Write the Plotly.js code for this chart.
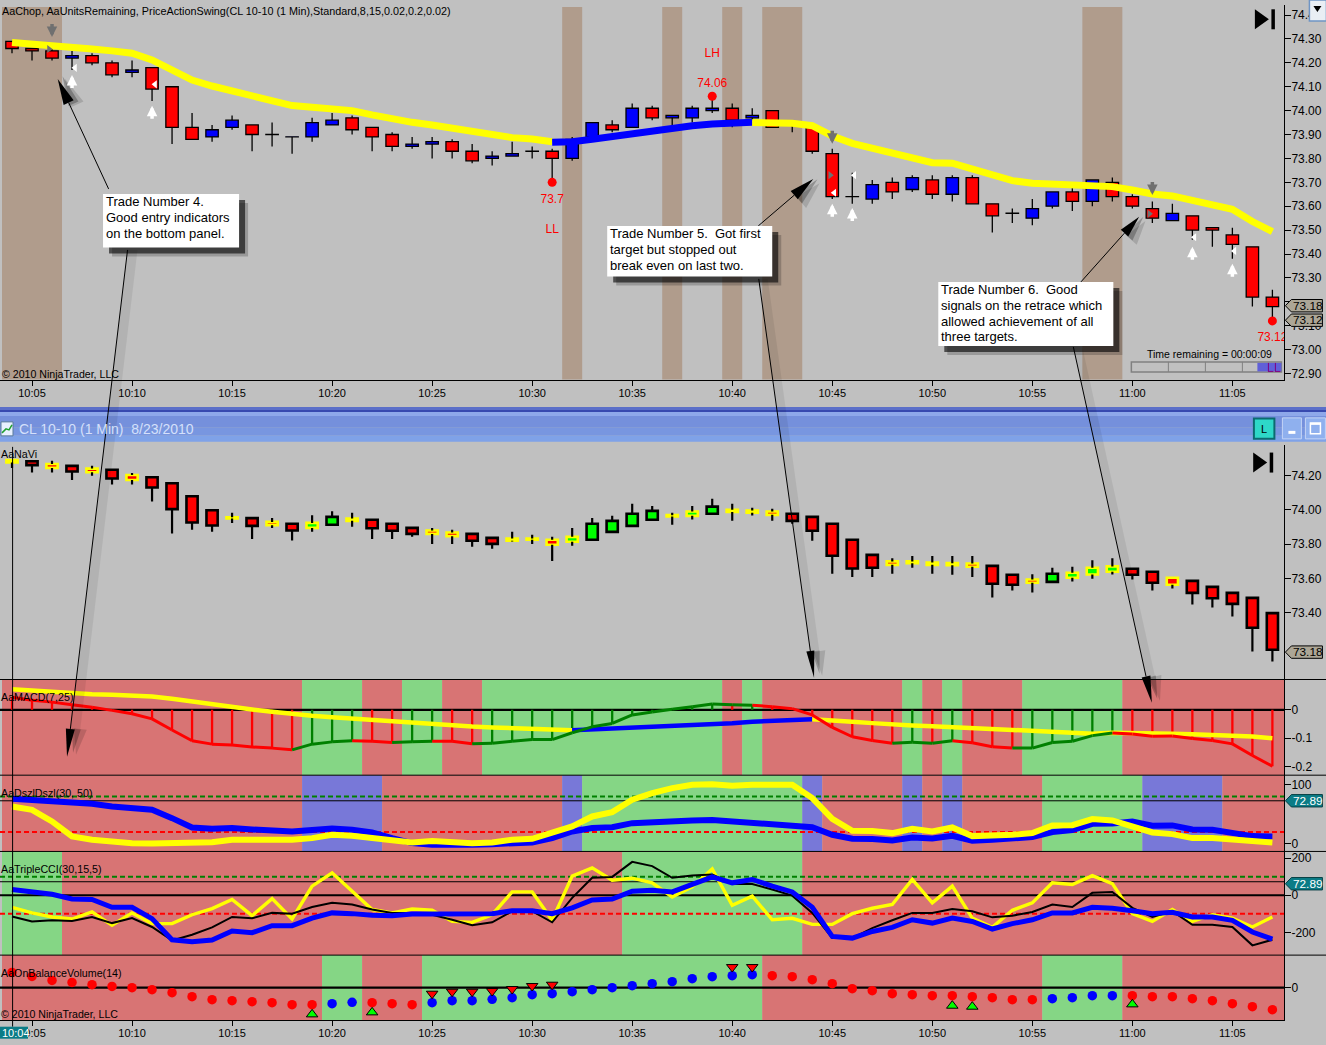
<!DOCTYPE html>
<html><head><meta charset="utf-8">
<script src="https://cdn.plot.ly/plotly-3.0.1.min.js"></script>
<style>html,body{margin:0;padding:0;background:#c0c0c0;overflow:hidden}</style>
</head><body><div id="chart" style="width:1326px;height:1045px"></div>
<script>
// ---------- time axis: minutes after 10:00, first bar 10:04 ----------
const firstMinute = 4;
const timeTickVals = [5,10,15,20,25,30,35,40,45,50,55,60,65];
const timeTickText = ['10:05','10:10','10:15','10:20','10:25','10:30','10:35','10:40','10:45','10:50','10:55','11:00','11:05'];

// ---------- top price panel ----------
const topOpen=[74.29,74.26,74.25,74.22,74.23,74.20,74.16,74.18,74.10,73.93,73.89,73.93,73.94,73.90,73.89,73.89,73.94,73.97,73.93,73.90,73.85,73.86,73.87,73.83,73.80,73.81,73.83,73.83,73.80,73.89,73.94,73.93,74.01,73.97,73.97,74.00,74.01,73.97,74.00,73.95,73.93,73.82,73.64,73.63,73.70,73.67,73.71,73.65,73.72,73.61,73.57,73.55,73.60,73.66,73.62,73.70,73.64,73.59,73.54,73.56,73.51,73.48,73.43,73.22];
const topClose=[74.26,74.25,74.22,74.23,74.20,74.15,74.17,74.09,73.93,73.88,73.92,73.96,73.90,73.90,73.89,73.95,73.96,73.92,73.89,73.85,73.86,73.87,73.83,73.79,73.81,73.82,73.83,73.80,73.88,73.95,73.92,74.01,73.97,73.98,74.01,74.01,73.96,73.98,73.93,73.94,73.83,73.64,73.64,73.69,73.66,73.72,73.65,73.72,73.61,73.56,73.57,73.59,73.66,73.62,73.71,73.64,73.60,73.55,73.57,73.50,73.50,73.44,73.22,73.18];
const topHigh=[74.29,74.26,74.27,74.25,74.24,74.21,74.21,74.18,74.10,73.99,73.94,73.98,73.94,73.95,73.89,73.97,73.99,73.98,73.93,73.91,73.89,73.89,73.88,73.86,73.83,73.87,73.85,73.84,73.89,73.95,73.96,74.03,74.02,73.98,74.02,74.06,74.03,74.01,74.00,73.96,73.94,73.84,73.74,73.71,73.72,73.73,73.73,73.73,73.73,73.61,73.59,73.63,73.66,73.68,73.71,73.72,73.65,73.62,73.61,73.56,73.51,73.51,73.43,73.25];
const topLow=[74.24,74.21,74.21,74.17,74.19,74.14,74.14,74.04,73.86,73.88,73.87,73.92,73.83,73.85,73.82,73.87,73.94,73.90,73.83,73.83,73.84,73.80,73.80,73.78,73.77,73.81,73.80,73.70,73.79,73.88,73.91,73.93,73.96,73.94,73.95,73.99,73.93,73.96,73.93,73.91,73.82,73.63,73.61,73.61,73.63,73.66,73.63,73.62,73.61,73.49,73.53,73.52,73.59,73.58,73.60,73.62,73.59,73.53,73.54,73.46,73.43,73.38,73.18,73.12];
const chopYellowA=[74.285,74.28,74.275,74.268,74.258,74.25,74.24,74.212,74.167,74.128,74.103,74.084,74.063,74.042,74.021,74.014,74.007,74.00,73.982,73.965,73.951,73.94,73.926,73.911,73.898,73.887,73.881,73.87];
const chopBlue=[73.868,73.87,73.88,73.891,73.905,73.919,73.93,73.937,73.944,73.947,73.951];
const chopYellowB=[73.95,73.948,73.947,73.937,73.894,73.863,73.842,73.819,73.805,73.782,73.78,73.756,73.728,73.707,73.696,73.692,73.685,73.688,73.682,73.668,73.651,73.643,73.626,73.609,73.587,73.536,73.494];
const chopZones=[[3.5,6.5],[31.5,32.5],[36.5,37.5],[39.5,40.5],[41.5,43.5],[57.5,59.5]];
const swingDotX=[31,39,67], swingDotY=[73.70,74.06,73.12];
const swingLabelX=[31,31,39,39,67], swingLabelY=[73.626,73.50,74.112,74.237,73.049], swingLabelText=['73.7','LL','74.06','LH','73.12'];
const upArrowX=[7,11,45,46,63,65], upArrowY=[74.149,74.02,73.61,73.593,73.43,73.359];
const downArrowX=[6,45,61], downArrowY=[74.308,73.861,73.647];
const whiteTickX=[7.15,11.15,45.1,46.1,63.1,65.1], whiteTickY=[74.179,74.11,73.656,73.73,73.47,73.413];
const grayTickX=[5.85,44.9,60.85], grayTickY=[74.258,73.73,73.568];
const topTickVals=[74.4,74.3,74.2,74.1,74.0,73.9,73.8,73.7,73.6,73.5,73.4,73.3,73.2,73.1,73.0,72.9];
const topTickText=['74.40','74.30','74.20','74.10','74.00','73.90','73.80','73.70','73.60','73.50','73.40','73.30','','73.10','73.00','72.90'];

// ---------- AaNaVi panel ----------
const naTop=[74.29,74.283,74.267,74.256,74.24,74.233,74.203,74.19,74.155,74.079,73.998,73.957,73.952,73.93,73.919,73.924,73.959,73.95,73.942,73.919,73.895,73.88,73.868,73.86,73.837,73.833,73.833,73.826,73.843,73.919,73.936,73.977,73.994,73.969,73.99,74.019,74.0,73.996,73.99,73.977,73.959,73.919,73.826,73.738,73.70,73.70,73.694,73.69,73.688,73.674,73.622,73.595,73.628,73.634,73.663,73.671,73.657,73.64,73.605,73.587,73.552,73.517,73.488,73.399];
const naBot=[74.275,74.26,74.244,74.223,74.219,74.182,74.174,74.13,74.004,73.926,73.909,73.95,73.907,73.911,73.88,73.895,73.913,73.936,73.893,73.878,73.86,73.86,73.847,73.82,73.802,73.82,73.826,73.797,73.814,73.826,73.872,73.907,73.942,73.961,73.965,73.977,73.988,73.983,73.971,73.936,73.878,73.733,73.659,73.663,73.68,73.69,73.68,73.678,73.669,73.57,73.564,73.576,73.581,73.605,73.624,73.64,73.622,73.576,73.564,73.517,73.486,73.453,73.314,73.186];
const naHigh=[74.29,74.283,74.285,74.256,74.256,74.233,74.215,74.19,74.155,74.079,73.998,73.983,73.952,73.953,73.919,73.969,73.992,73.983,73.942,73.919,73.895,73.895,73.884,73.86,73.837,73.872,73.855,73.843,73.895,73.953,73.965,74.035,74.023,73.983,74.023,74.064,74.035,74.012,74.006,73.977,73.959,73.919,73.826,73.738,73.719,73.731,73.731,73.731,73.731,73.674,73.622,73.626,73.663,73.669,73.707,73.719,73.657,73.64,73.605,73.587,73.552,73.517,73.488,73.399];
const naLow=[74.244,74.217,74.217,74.174,74.198,74.147,74.147,74.048,73.862,73.884,73.872,73.924,73.831,73.895,73.822,73.872,73.913,73.901,73.831,73.831,73.843,73.802,73.802,73.785,73.773,73.816,73.802,73.703,73.791,73.826,73.872,73.907,73.942,73.913,73.944,73.977,73.936,73.967,73.936,73.919,73.82,73.628,73.61,73.61,73.628,73.663,73.628,73.622,73.61,73.49,73.531,73.519,73.581,73.583,73.599,73.624,73.595,73.531,73.543,73.45,73.432,73.38,73.176,73.118];
const naStyle=['YR','BR','YR','BR','YR','BR','YR','BR','BR','BR','BR','YY','BR','YR','BR','YG','BG','YY','BR','BR','BR','YR','YR','BR','BR','YY','YY','YR','YG','BG','BG','BG','BG','YY','YG','BG','YY','YY','YR','BR','BR','BR','BR','BR','YR','YY','YY','YY','YR','BR','BR','YR','BG','YG','YG','YG','BR','BR','YR','BR','BR','BR','BR','BR'];
const naTickVals=[74.2,74.0,73.8,73.6,73.4], naTickText=['74.20','74.00','73.80','73.60','73.40'];

// ---------- AaMACD panel ----------
const macdMain=[.044,.034,.027,.018,.009,-.002,-.014,-.032,-.071,-.109,-.121,-.124,-.131,-.135,-.141,-.121,-.113,-.109,-.111,-.115,-.113,-.111,-.111,-.12,-.118,-.111,-.105,-.105,-.081,-.06,-.048,-.018,-.008,.002,.011,.02,.018,.016,.011,.004,-.018,-.062,-.095,-.108,-.118,-.114,-.118,-.109,-.116,-.13,-.135,-.135,-.115,-.111,-.091,-.082,-.085,-.093,-.092,-.101,-.108,-.12,-.161,-.199];
const macdSignalA=[.072,.067,.062,.059,.055,.053,.051,.047,.039,.029,.02,.009,.001,-.007,-.015,-.021,-.026,-.031,-.036,-.042,-.046,-.051,-.055,-.059,-.062,-.065,-.068,-.072,-.072];
const macdSignalBlue=[-.072,-.069,-.067,-.062,-.06,-.058,-.055,-.052,-.047,-.042,-.039,-.036,-.033];
const macdSignalB=[-.033,-.039,-.042,-.047,-.052,-.055,-.058,-.061,-.065,-.067,-.071,-.075,-.079,-.081,-.084,-.081,-.081,-.081,-.084,-.086,-.088,-.091,-.094,-.1];
const macdStemColor='RRRRRRRRRRRRRRRGGGRRGGRRGGGGGGGGGGGGRGRRRRRRRGRGRRRGGGGGRRRRRRRR'.split('');
const macdLineColor='RRRRRRRRRRRRRRRGGGRRGGRRGGGGGGGGGGGGGGRRRRRRRGGGRRRGGGGGRRRRRRRR'.split('');
const macdBands=[[3.5,18.5,'R'],[18.5,21.5,'G'],[21.5,23.5,'R'],[23.5,25.5,'G'],[25.5,27.5,'R'],[27.5,39.5,'G'],[39.5,40.5,'R'],[40.5,41.5,'G'],[41.5,48.5,'R'],[48.5,49.5,'G'],[49.5,50.5,'R'],[50.5,51.5,'G'],[51.5,54.5,'R'],[54.5,59.5,'G'],[59.5,67.58,'R']];

// ---------- AaDszlDszl panel ----------
const dszlBlue=[76.3,74.6,71.8,68.9,67.8,63.3,61.6,57.6,43.5,27.7,25.4,26.6,24.3,22.6,20.9,23.2,26,23.7,19.2,9.6,1.1,-1.7,-2.8,-1.7,-.6,1.1,2.3,9.6,20.9,26.6,28.2,35,37.3,37.9,39.5,40.1,37.9,36.7,33.3,32.8,28.2,15.3,8.5,7.9,5.6,10.7,9,13.6,5.1,6.8,8.5,11.3,19.8,23.2,33.9,34.5,37.9,30.5,31.1,24.3,23.7,19.2,13,12.4];
const dszlYellow=[63.3,57.6,37.9,12.4,6.8,2.8,1.1,.6,1.1,1.1,2.8,6.8,6.8,6.8,6.8,9.6,15.3,13.6,9.6,5.6,2.3,4.5,2.8,1.1,2.3,6.8,8.5,18.1,29.4,46.3,53.7,74.6,85.9,94.4,100,101.1,98.3,100,100,100,77.4,42.4,22,21.5,18.1,25.4,20.9,27.7,13,13,15.3,18.1,31.1,31.6,41.8,39.5,29.4,19.2,16.4,9.6,9.6,6.8,2.8,2.3];
const dszlBands=[[3.5,18.5,'R'],[18.5,22.5,'B'],[22.5,31.5,'R'],[31.5,32.5,'B'],[32.5,43.5,'G'],[43.5,44.5,'B'],[44.5,48.5,'R'],[48.5,49.5,'B'],[49.5,50.5,'R'],[50.5,51.5,'B'],[51.5,55.5,'R'],[55.5,60.5,'G'],[60.5,64.5,'B'],[64.5,67.58,'R']];
const dszlUpper=80, dszlLower=20, crossLevel=72.89;

// ---------- AaTripleCCI panel ----------
const cciYellow=[-65,-95,-117,-128,-90,-162,-95,-153,-153,-105,-72,-23,-110,-18,-128,49,121,22,-77,-95,-74,-81,-141,-146,-105,18,18,-135,103,148,81,92,67,-9,45,142,-54,-5,-132,-124,-157,-157,-99,-70,-50,85,-41,49,-123,-173,-81,-41,67,58,106,63,-99,-141,-77,-141,-105,-123,-171,-117];
const cciBlack=[-114,-141,-135,-139,-117,-150,-123,-171,-243,-213,-173,-117,-124,-95,-99,-63,-41,-50,-77,-95,-95,-105,-132,-162,-146,-86,-86,-146,-14,94,99,180,157,94,106,112,61,61,31,-2,-95,-231,-231,-177,-135,-95,-95,-74,-86,-119,-110,-90,-50,-63,13,18,-68,-117,-86,-159,-159,-171,-270,-240];
const cciBlue=[31,16,5,-20,-23,-65,-65,-126,-240,-250,-241,-193,-202,-164,-164,-123,-95,-99,-108,-110,-101,-101,-101,-99,-99,-83,-83,-99,-68,-25,-20,22,27,18,61,99,67,85,49,18,-65,-222,-231,-195,-173,-132,-150,-123,-141,-182,-153,-132,-95,-95,-65,-70,-83,-99,-92,-117,-117,-135,-198,-236];
const cciBands=[[3.5,6.5,'G'],[6.5,34.5,'R'],[34.5,43.5,'G'],[43.5,67.58,'R']];
const cciUpper=100, cciLower=-100;

// ---------- AaOnBalanceVolume panel ----------
const obvDots=[46,34,22,16,9,4,0,-6,-15,-27,-36,-39,-42,-45,-51,-51,-48,-44,-45,-48,-51,-45,-39,-39,-35,-30,-21,-18,-12,-6,0,6,12,18,27,33,36,39,36,33,24,12,-3,-9,-18,-21,-24,-24,-27,-30,-36,-36,-33,-30,-24,-24,-24,-27,-27,-33,-39,-48,-57,-66];
const obvBlueMinutes=[20,21,25,26,27,28,29,30,31,32,33,34,35,36,37,38,39,40,41,56,57,58,59];
const obvBands=[[3.5,19.5,'R'],[19.5,21.5,'G'],[21.5,24.5,'R'],[24.5,41.5,'G'],[41.5,55.5,'R'],[55.5,59.5,'G'],[59.5,67.58,'R']];
const obvDownX=[25,26,27,28,29,30,31,40,41], obvDownY=[-18,-12,-12,-10,-4,5,9,62,62];
const obvUpX=[19,22,51,52,60], obvUpY=[-80,-74,-54,-57,-50];

// ---------- page geometry (furniture only) ----------
const W=1326,H=1045,PW=1283.6,PH=1020.3;
const fx=p=>p/PW, fy=p=>1-p/PH;
const dom=(a,b)=>[fy(b),fy(a)];
const FONT='"Liberation Sans",Arial,sans-serif';
const BG='#c0c0c0',BAND={R:'#d87474',G:'#85d685',B:'#7878d8'},BROWN='#b09c8c';

const minutes=topOpen.map((_,i)=>firstMinute+i);
const seq=(start,arr)=>arr.map((_,i)=>start+i);
const traces=[];
function wicks(xs,hi,lo,top,bot){const X=[],Y=[];xs.forEach((m,i)=>{
  if(hi[i]>top[i]){X.push(m,m,null);Y.push(hi[i],top[i],null);}
  if(lo[i]<bot[i]){X.push(m,m,null);Y.push(bot[i],lo[i],null);}});return {x:X,y:Y};}

// top candles
const tTop=topOpen.map((o,i)=>Math.max(o,topClose[i])), tBot=topOpen.map((o,i)=>Math.min(o,topClose[i]));
traces.push({type:'bar',xaxis:'x',yaxis:'y',x:minutes,base:tBot,y:tTop.map((t,i)=>Math.max(t-tBot[i],0.0005)),width:0.62,
  marker:{color:topClose.map((c,i)=>c>=topOpen[i]?'#0000ff':'#ff0000'),line:{color:'#000',width:1.3}}});
const tw=wicks(minutes,topHigh,topLow,tTop,tBot);
traces.push({type:'scatter',mode:'lines',xaxis:'x',yaxis:'y',x:tw.x,y:tw.y,line:{color:'#000',width:1.3},connectgaps:false});
traces.push({type:'scatter',mode:'lines',xaxis:'x',yaxis:'y',x:seq(4,chopYellowA),y:chopYellowA,line:{color:'#ffff00',width:7}});
traces.push({type:'scatter',mode:'lines',xaxis:'x',yaxis:'y',x:seq(31,chopBlue),y:chopBlue,line:{color:'#0000ff',width:7}});
traces.push({type:'scatter',mode:'lines',xaxis:'x',yaxis:'y',x:seq(41,chopYellowB),y:chopYellowB,line:{color:'#ffff00',width:7}});
traces.push({type:'scatter',mode:'markers',xaxis:'x',yaxis:'y',x:swingDotX,y:swingDotY,marker:{color:'#ff0000',size:9}});
traces.push({type:'scatter',mode:'text',xaxis:'x',yaxis:'y',x:swingLabelX,y:swingLabelY,text:swingLabelText,textfont:{color:'#ff0000',size:12,family:FONT},textposition:'middle center',cliponaxis:true});
traces.push({type:'scatter',mode:'markers',xaxis:'x',yaxis:'y',x:whiteTickX,y:whiteTickY,marker:{symbol:'triangle-left',color:'#fff',size:7}});
traces.push({type:'scatter',mode:'markers',xaxis:'x',yaxis:'y',x:grayTickX,y:grayTickY,marker:{symbol:'triangle-right',color:'#707070',size:7}});

// AaNaVi candles
const OUT={B:'#000000',Y:'#ffff00'},FILL={R:'#ff0000',G:'#00ff00',Y:'#ffff00'};
traces.push({type:'bar',xaxis:'x2',yaxis:'y2',x:minutes,base:naBot,y:naTop.map((t,i)=>t-naBot[i]),width:0.56,
  marker:{color:naStyle.map(s=>FILL[s[1]]),line:{color:naStyle.map(s=>OUT[s[0]]),width:2.6}}});
const nw=wicks(minutes,naHigh,naLow,naTop,naBot);
traces.push({type:'scatter',mode:'lines',xaxis:'x2',yaxis:'y2',x:nw.x,y:nw.y,line:{color:'#000',width:2.2},connectgaps:false});

// MACD
function stemTrace(code,color){const X=[],Y=[];minutes.forEach((m,i)=>{if(macdStemColor[i]===code){X.push(m,m,null);Y.push(0,macdMain[i],null);}});
  return {type:'scatter',mode:'lines',xaxis:'x2',yaxis:'y3',x:X,y:Y,line:{color,width:2.3},connectgaps:false};}
function segTrace(code,color){const X=[],Y=[];for(let i=1;i<minutes.length;i++){if(macdLineColor[i]===code){X.push(minutes[i-1],minutes[i],null);Y.push(macdMain[i-1],macdMain[i],null);}}
  return {type:'scatter',mode:'lines',xaxis:'x2',yaxis:'y3',x:X,y:Y,line:{color,width:3},connectgaps:false};}
traces.push(stemTrace('R','#ff0000'),stemTrace('G','#008000'));
traces.push({type:'scatter',mode:'lines',xaxis:'x2',yaxis:'y3',x:seq(4,macdSignalA),y:macdSignalA,line:{color:'#ffff00',width:4.5}});
traces.push({type:'scatter',mode:'lines',xaxis:'x2',yaxis:'y3',x:seq(32,macdSignalBlue),y:macdSignalBlue,line:{color:'#0000ff',width:4.5}});
traces.push({type:'scatter',mode:'lines',xaxis:'x2',yaxis:'y3',x:seq(44,macdSignalB),y:macdSignalB,line:{color:'#ffff00',width:4.5}});
traces.push(segTrace('R','#ff0000'),segTrace('G','#008000'));

// Dszl
traces.push({type:'scatter',mode:'lines',xaxis:'x2',yaxis:'y4',x:minutes,y:dszlBlue,line:{color:'#0000ff',width:6}});
traces.push({type:'scatter',mode:'lines',xaxis:'x2',yaxis:'y4',x:minutes,y:dszlYellow,line:{color:'#ffff00',width:6}});
// CCI
traces.push({type:'scatter',mode:'lines',xaxis:'x2',yaxis:'y5',x:minutes,y:cciYellow,line:{color:'#ffff00',width:3.4}});
traces.push({type:'scatter',mode:'lines',xaxis:'x2',yaxis:'y5',x:minutes,y:cciBlack,line:{color:'#000',width:2}});
traces.push({type:'scatter',mode:'lines',xaxis:'x2',yaxis:'y5',x:minutes,y:cciBlue,line:{color:'#0000ff',width:5}});
// OBV
traces.push({type:'scatter',mode:'markers',xaxis:'x2',yaxis:'y6',x:minutes,y:obvDots,marker:{size:9.5,color:minutes.map(m=>obvBlueMinutes.includes(m)?'#0000ff':'#ff0000')}});
traces.push({type:'scatter',mode:'markers',xaxis:'x2',yaxis:'y6',x:obvDownX,y:obvDownY,marker:{symbol:'triangle-down',size:10,color:'#ff0000',line:{color:'#000',width:1}}});
traces.push({type:'scatter',mode:'markers',xaxis:'x2',yaxis:'y6',x:obvUpX,y:obvUpY,marker:{symbol:'triangle-up',size:10,color:'#00ff00',line:{color:'#000',width:1}}});

// ---------- shapes ----------
const shapes=[];
const rect=(x0,y0,x1,y1,fill,extra)=>shapes.push(Object.assign({type:'rect',xref:'paper',yref:'paper',x0:fx(x0),x1:fx(x1),y0:fy(y0),y1:fy(y1),fillcolor:fill,line:{width:0},layer:'above'},extra||{}));
const poly=(pts,fill,extra)=>shapes.push(Object.assign({type:'path',xref:'paper',yref:'paper',path:'M'+pts.map(p=>fx(p[0])+','+fy(p[1])).join(' L')+' Z',fillcolor:fill,line:{width:0},layer:'above'},extra||{}));
const seg=(x0,y0,x1,y1,color,width,extra)=>shapes.push(Object.assign({type:'line',xref:'paper',yref:'paper',x0:fx(x0),x1:fx(x1),y0:fy(y0),y1:fy(y1),line:{color,width},layer:'above'},extra||{}));

chopZones.forEach(z=>shapes.push({type:'rect',xref:'x',yref:'paper',x0:z[0],x1:z[1],y0:fy(379.5),y1:fy(7),fillcolor:BROWN,line:{width:0},layer:'below'}));
function bands(list,yaxisName){list.forEach(b=>shapes.push({type:'rect',xref:'x2',yref:yaxisName+' domain',x0:b[0],x1:b[1],y0:0,y1:1,fillcolor:BAND[b[2]],line:{width:0},layer:'below'}));}
bands(macdBands,'y3');bands(dszlBands,'y4');bands(cciBands,'y5');bands(obvBands,'y6');
function hline(yaxisName,val,color,width,dash){shapes.push({type:'line',xref:'x2',yref:yaxisName,x0:3.4,x1:67.58,y0:val,y1:val,line:{color,width,dash:dash||'solid'},layer:'below'});}
hline('y3',0,'#000',2.2);
hline('y4',crossLevel,'#000',1);hline('y4',dszlUpper,'#008000',2,'5px,3px');hline('y4',dszlLower,'#ff0000',2,'5px,3px');
hline('y5',crossLevel,'#000',1);hline('y5',0,'#000',2.2);hline('y5',cciUpper,'#008000',2,'5px,3px');hline('y5',cciLower,'#ff0000',2,'5px,3px');
hline('y6',0,'#000',2.2);
[679.7,775.4,851.7,955.4].forEach(y=>seg(0,y,W,y,'#000',1));
seg(12.6,447,12.6,1027,'#000',1);

// window title bar
rect(0,407,W,412,'#5b6fc9');seg(0,411,W,411,'#2b3da6',1.5);
rect(0,412,W,416,'#8ea8ea');rect(0,416,W,428,'#7590dc');rect(0,428,W,436,'#7896e0');rect(0,436,W,442,'#7fa2e8');
rect(1,422,13,436,'#e8f0ff',{line:{color:'#5a7a9a',width:1}});
shapes.push({type:'path',xref:'paper',yref:'paper',path:'M'+[[2,433],[6,429],[9,430],[12,425]].map(p=>fx(p[0])+','+fy(p[1])).join(' L'),line:{color:'#20a030',width:1.5},layer:'above'});
rect(1253.5,418.5,1274,439,'#2ed8c8',{line:{color:'#0d6a70',width:2}});
rect(1282,418,1301,439,'#8fb0ee',{line:{color:'#c4d4f6',width:1}});rect(1288,431,1295,434,'#fff');
rect(1305,418,1325,439,'#8fb0ee',{line:{color:'#c4d4f6',width:1}});rect(1310,423,1320,434,'rgba(0,0,0,0)',{line:{color:'#fff',width:1.5}});rect(1310,423,1320,425,'#fff');

// go-to-end icons and dropdown
function endIcon(x,y){poly([[x,y],[x,y+20],[x+14,y+10]],'#000');rect(x+16.5,y,x+20,y+20,'#000');}
endIcon(1254.5,9.3);endIcon(1252.8,452.7);
rect(1309,0,1326,21,'#e9eef4',{line:{color:'#6f95c4',width:1.5}});poly([[1313,6],[1321,6],[1317,12]],'#000');

// time remaining gauge
rect(1131,362,1281,372,BG,{line:{color:'#808080',width:1.5}});
[1168,1205,1242].forEach(x=>seg(x,362,x,372,'#808080',1));
rect(1257,363,1281,371.5,'#6060d8');seg(1268,363,1268,372,'#800080',1);seg(1268,371.5,1273,371.5,'#800080',1);seg(1275,363,1275,372,'#800080',1);seg(1275,371.5,1280,371.5,'#800080',1);

// callouts
function callout(x0,y0,tx,ty,hl,hw,sx,sy,band){
  const d=Math.hypot(tx-x0,ty-y0),ux=(tx-x0)/d,uy=(ty-y0)/d,bx=tx-ux*hl,by=ty-uy*hl,px=-uy,py=ux;
  if(band) poly([[x0,y0],[x0+sx,y0+sy],[bx+sx,by+sy],[bx,by]],'rgba(0,0,0,0.07)');
  poly([[tx+sx*0.9,ty+sy*0.9-2],[bx+px*(hw/2+2)+sx,by+py*(hw/2+2)+sy],[bx-px*(hw/2+2)+sx,by-py*(hw/2+2)+sy]],'rgba(0,0,0,0.14)');
  poly([[tx+sx*0.6,ty+sy*0.6-4],[bx+px*hw/2+sx*0.6,by+py*hw/2+sy*0.6],[bx-px*hw/2+sx*0.6,by-py*hw/2+sy*0.6]],'rgba(0,0,0,0.25)');
  seg(x0,y0,bx,by,'#000',1);
  poly([[tx,ty],[bx+px*hw/2,by+py*hw/2],[bx-px*hw/2,by-py*hw/2]],'#000');
}
callout(108.6,189,57.7,79,26,11,8,2,false);
callout(127.5,250,67,757,28,9,10,0,true);
callout(758,226,813,179,25,11,7,7,false);
callout(758.5,279,813.8,678,27,8,9,0,true);
callout(1080.6,282,1138.8,216.7,22,10,7,7,false);
callout(1073,347,1151.5,703,27,9,9,0,true);
function box(x0,y0,x1,y1){rect(x0+9,y0+9,x1+9,y1+9,'rgba(0,0,0,0.2)');rect(x0+6,y0+6,x1+6,y1+6,'rgba(0,0,0,0.6)');rect(x0,y0,x1,y1,'#fff');}
box(103,194,239,247.5);box(607,226,772,276.7);box(938,282,1113,346);

// price tags
function tag(y,fill,stroke){poly([[1285,y],[1291,y-6.2],[1322,y-6.2],[1322,y+6.2],[1291,y+6.2]],fill,{line:{color:stroke,width:1}});}
const TAGS=[[305.8,'73.18','#aca696','#000','#000'],[320.3,'73.12','#aca696','#000','#000'],[652.3,'73.18','#aca696','#000','#000'],[801,'72.89','#0b7c86','#083f44','#fff'],[884,'72.89','#0b7c86','#083f44','#fff']];
TAGS.forEach(t=>tag(t[0],t[2],t[3]));
rect(0,1027,28,1039,'#0b7c86');

// ---------- annotations ----------
const ann=[];
function label(px,py,text,size,color,extra){ann.push(Object.assign({xref:'paper',yref:'paper',x:fx(px),y:fy(py),text,showarrow:false,xanchor:'left',yanchor:'middle',align:'left',borderpad:0,font:{family:FONT,size,color}},extra||{}));}
label(0.5,11,'AaChop, AaUnitsRemaining, PriceActionSwing(CL 10-10 (1 Min),Standard,8,15,0.02,0.2,0.02)',10.8,'#000');
label(1,374,'© 2010 NinjaTrader, LLC',10.6,'#000');
label(0,454,'AaNaVi',10.7,'#000');
label(0,697,'AaMACD(7,25)',10.7,'#000');
label(0,793,'AaDszlDszl(30, 50)',10.7,'#000');
label(0,869,'AaTripleCCI(30,15,5)',10.7,'#000');
label(0,973,'AaOnBalanceVolume(14)',10.7,'#000');
label(0,1014,'© 2010 NinjaTrader, LLC',10.6,'#000');
label(18,429,'CL 10-10 (1 Min)&nbsp;&nbsp;8/23/2010',14,'#d4e0fb');
label(1146,354,'Time remaining = 00:00:09',10.5,'#000');
label(1260,429,'L',11,'#000');
label(0.5,1033,'10:04',11,'#fff');
const callText=(x,lines,ys)=>lines.forEach((t,i)=>label(x,ys[i],t,13,'#000'));
callText(105,['Trade Number 4.','Good entry indicators','on the bottom panel.'],[202,217.5,233.5]);
callText(609,['Trade Number 5.&nbsp;&nbsp;Got first','target but stopped out','break even on last two.'],[234,250,265.5]);
callText(940,['Trade Number 6.&nbsp;&nbsp;Good','signals on the retrace which','allowed achievement of all','three targets.'],[290,306,321.5,337]);
TAGS.forEach(t=>label(1291.5,t[0],t[1],11.8,t[4]));
const arrowSpec={axref:'pixel',ayref:'pixel',ax:0,showarrow:true,arrowhead:2,arrowsize:0.6,text:' ',font:{size:1},standoff:0,startstandoff:0};
upArrowX.forEach((m,i)=>ann.push(Object.assign({},arrowSpec,{xref:'x',yref:'y',x:m,y:upArrowY[i],ay:15,arrowwidth:3.5,arrowcolor:'#fff'})));
downArrowX.forEach((m,i)=>ann.push(Object.assign({},arrowSpec,{xref:'x',yref:'y',x:m,y:downArrowY[i],ay:-15,arrowwidth:3.5,arrowcolor:'#707070'})));

// ---------- axes ----------
const tickFont={family:FONT,size:12,color:'#000'};
const yAxis=(domain,range,vals,text,anchor)=>({domain,range,anchor,side:'right',tickmode:'array',tickvals:vals,ticktext:text,showgrid:false,zeroline:false,showline:true,linecolor:'#000',linewidth:1,ticks:'outside',ticklen:6,tickcolor:'#000',tickwidth:1,tickfont:tickFont,ticklabelstandoff:-2,fixedrange:true});
const xAxis=(anchor,extra)=>Object.assign({anchor,domain:[0,1],range:[3.4,67.58],tickmode:'array',tickvals:timeTickVals,ticktext:timeTickText,showgrid:false,zeroline:false,showline:true,linecolor:'#000',linewidth:1.2,ticks:'outside',ticklen:5,tickcolor:'#000',tickwidth:1,tickfont:{family:FONT,size:11,color:'#000'},fixedrange:true},extra||{});

const layout={width:W,height:H,autosize:false,margin:{l:0,r:W-PW,t:0,b:H-PH,pad:0},paper_bgcolor:BG,plot_bgcolor:BG,showlegend:false,hovermode:false,barmode:'overlay',dragmode:false,
  xaxis:xAxis('y',{ticklabelstandoff:-3}),xaxis2:xAxis('y6',{matches:'x',ticklabelstandoff:-2}),
  yaxis:yAxis(dom(5,380.3),[72.872,74.442],topTickVals,topTickText,'x'),
  yaxis2:yAxis(dom(445,679.7),[73.013,74.378],naTickVals,naTickText,'x2'),
  yaxis3:yAxis(dom(679.7,775.4),[-.2303,.1067],[0,-.1,-.2],['0','-0.1','-0.2'],'x2'),
  yaxis4:yAxis(dom(775.4,851.7),[-13,116.3],[100,0],['100','0'],'x2'),
  yaxis5:yAxis(dom(851.7,955.4),[-322.7,236.2],[200,0,-200],['200','0','-200'],'x2'),
  yaxis6:yAxis(dom(955.4,1020.3),[-96.9,97.8],[0],['0'],'x2'),
  shapes,annotations:ann};
Plotly.newPlot('chart',traces,layout,{staticPlot:true,displayModeBar:false});
</script></body></html>
